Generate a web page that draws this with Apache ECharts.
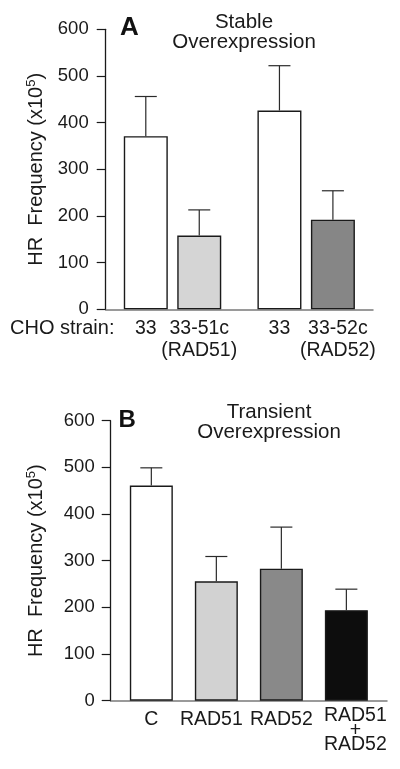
<!DOCTYPE html>
<html>
<head>
<meta charset="utf-8">
<script src="https://cdn.jsdelivr.net/npm/echarts@6/dist/echarts.min.js"></script>
<style>
html,body{margin:0;padding:0;background:#fff;}
#chart{width:400px;height:769px;}
</style>
</head>
<body>
<div id="chart"></div>
<script>
// ---- data ----
const catA = ['33', '33-51c\n(RAD51)', '33', '33-52c\n(RAD52)'];
const valA = [371, 158, 426, 192];
const errA = [456, 213, 522, 254];
const catB = ['C', 'RAD51', 'RAD52', 'RAD51\n+\nRAD52'];
const valB = [461, 256, 283, 194];
const errB = [499, 309, 372, 239];
const yTicks = [0, 100, 200, 300, 400, 500, 600];

// ---- layout / style (not data) ----
const FONT = "'Liberation Sans', Arial, Helvetica, sans-serif";
const slotsA = [1, 3, 6, 8], nA = 10;
const slotsB = [2, 6, 10, 14], nB = 17;
const colorsA = ['#ffffff', '#d5d5d5', '#ffffff', '#868686'];
const colorsB = ['#ffffff', '#d2d2d2', '#898989', '#0d0d0d'];
const shiftA = [0, 0, 0, 10];
const shiftB = [0, -10, 0, 18];

function makeAxisCats(n) { const a = []; for (let i = 0; i < n; i++) a.push('s' + i); return a; }
function labelMap(slots) { const m = {}; slots.forEach((s, i) => m[s] = i); return m; }

function makeBarData(n, slots, vals, colors) {
  const d = new Array(n).fill('-');
  slots.forEach((s, i) => {
    d[s] = { value: vals[i], itemStyle: { color: colors[i], borderColor: '#1a1a1a', borderWidth: 1.4 } };
  });
  return d;
}
function makeErrData(slots, vals, errs) {
  return slots.map((s, i) => [s, vals[i], errs[i]]);
}
function errRender(params, api) {
  const x = api.value(0);
  const base = api.coord([x, api.value(1)]);
  const top = api.coord([x, api.value(2)]);
  const half = 11;
  const st = { stroke: '#2a2a2a', lineWidth: 1.2 };
  return { type: 'group', children: [
    { type: 'line', shape: { x1: base[0], y1: base[1], x2: top[0], y2: top[1] }, style: st },
    { type: 'line', shape: { x1: top[0] - half, y1: top[1], x2: top[0] + half, y2: top[1] }, style: st }
  ]};
}
function makeFormatter(slots, cats) {
  const m = labelMap(slots);
  return function (v, idx) {
    const k = m[idx];
    if (k === undefined) return '';
    return cats[k].split('\n').map(t => '{c' + k + '|' + t + '}').join('\n');
  };
}
function makeRich(shifts, lhs) {
  const r = {};
  shifts.forEach((s, k) => {
    r['c' + k] = {
      fontSize: 19.5, fontFamily: FONT, color: '#1a1a1a', lineHeight: lhs[k],
      padding: s >= 0 ? [0, 0, 0, s] : [0, -s, 0, 0]
    };
  });
  return r;
}

const yName = 'HR  Frequency (x10{sup|5})';
function yAxisCfg(gridIndex, margin, nameGap) {
  return {
    type: 'value', gridIndex: gridIndex, min: yTicks[0], max: yTicks[yTicks.length - 1], interval: 100,
    axisLine: { show: true, lineStyle: { color: '#1a1a1a', width: 1.3 } },
    axisTick: { show: true, length: 9, lineStyle: { color: '#1a1a1a', width: 1.2 } },
    axisLabel: { fontSize: 18.5, fontFamily: FONT, color: '#1a1a1a', margin: margin },
    splitLine: { show: false },
    name: yName, nameLocation: 'middle', nameGap: nameGap, nameRotate: 90,
    nameTextStyle: {
      fontSize: 20, fontFamily: FONT, color: '#1a1a1a',
      rich: { sup: { fontSize: 13, fontFamily: FONT, color: '#1a1a1a', verticalAlign: 'top', padding: [0, 0, 10, 0] } }
    }
  };
}
function xAxisCfg(gridIndex, n, slots, cats, shifts, lhs, margin) {
  return {
    type: 'category', gridIndex: gridIndex, data: makeAxisCats(n), boundaryGap: true,
    axisLine: { show: true, lineStyle: { color: '#7a7a7a', width: 1.5 } },
    axisTick: { show: false },
    axisLabel: { interval: 0, margin: margin, formatter: makeFormatter(slots, cats), rich: makeRich(shifts, lhs) },
    splitLine: { show: false }
  };
}

const option = {
  backgroundColor: '#ffffff',
  animation: false,
  grid: [
    { left: 105.7, right: 27, top: 29.3, bottom: 459.7, containLabel: false },
    { left: 110.7, right: 13, top: 420.7, bottom: 68.3, containLabel: false }
  ],
  xAxis: [
    xAxisCfg(0, nA, slotsA, catA, shiftA, [22, 22, 22, 22], 8),
    xAxisCfg(1, nB, slotsB, catB, shiftB, [22, 22, 22, 14.5], 8)
  ],
  yAxis: [ yAxisCfg(0, 17, 58), yAxisCfg(1, 16, 63) ],
  series: [
    { type: 'bar', xAxisIndex: 0, yAxisIndex: 0, barWidth: 44, data: makeBarData(nA, slotsA, valA, colorsA), z: 2 },
    { type: 'custom', xAxisIndex: 0, yAxisIndex: 0, renderItem: errRender, data: makeErrData(slotsA, valA, errA), encode: { x: 0, y: [1, 2] }, z: 3 },
    { type: 'bar', xAxisIndex: 1, yAxisIndex: 1, barWidth: 43, data: makeBarData(nB, slotsB, valB, colorsB), z: 2 },
    { type: 'custom', xAxisIndex: 1, yAxisIndex: 1, renderItem: errRender, data: makeErrData(slotsB, valB, errB), encode: { x: 0, y: [1, 2] }, z: 3 }
  ],
  graphic: [
    { type: 'text', x: 120, y: 27.5, style: { text: 'A', font: 'bold 26px ' + FONT, fill: '#111', textAlign: 'left', textVerticalAlign: 'middle' } },
    { type: 'text', x: 244, y: 32, style: { text: 'Stable\nOverexpression', font: '20.5px ' + FONT, fill: '#1a1a1a', textAlign: 'center', textVerticalAlign: 'middle', lineHeight: 20 } },
    { type: 'text', x: 10, y: 328, style: { text: 'CHO strain:', font: '20px ' + FONT, fill: '#1a1a1a', textAlign: 'left', textVerticalAlign: 'middle' } },
    { type: 'text', x: 118.5, y: 420, style: { text: 'B', font: 'bold 24px ' + FONT, fill: '#111', textAlign: 'left', textVerticalAlign: 'middle' } },
    { type: 'text', x: 269, y: 422.3, style: { text: 'Transient\nOverexpression', font: '20.5px ' + FONT, fill: '#1a1a1a', textAlign: 'center', textVerticalAlign: 'middle', lineHeight: 20.7 } }
  ]
};

const chart = echarts.init(document.getElementById('chart'), null, { renderer: 'canvas' });
chart.setOption(option);
</script>
</body>
</html>
